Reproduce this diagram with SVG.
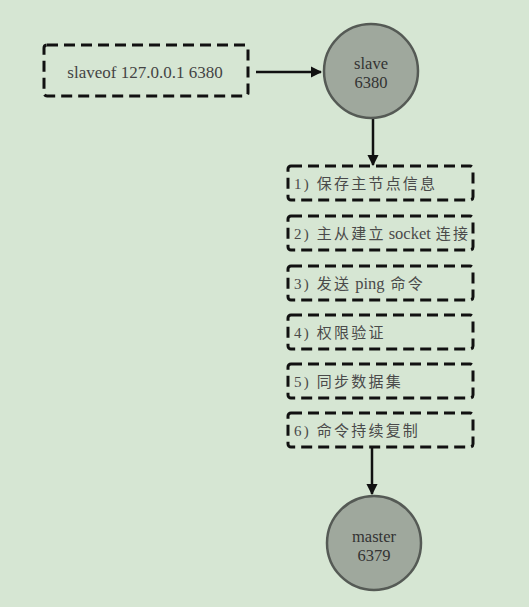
<svg xmlns="http://www.w3.org/2000/svg" width="529" height="607" viewBox="0 0 529 607">
<defs>
<marker id="ah" viewBox="0 0 10 10" refX="9" refY="5" markerWidth="4.5" markerHeight="4.5" orient="auto"><path d="M0,0 L10,5 L0,10 z" fill="#111"/></marker>
<style>
.box{fill:none;stroke:#111;stroke-width:3;stroke-dasharray:11 6;}
.circ{fill:#9fa89d;stroke:#555a55;stroke-width:2.5;}
.t{font-family:"Liberation Serif","Noto Sans CJK SC",serif;font-size:15px;fill:#4a4a4a;letter-spacing:2.2px;}
.n{letter-spacing:0;font-size:16.5px;}
.s{font-family:"Liberation Serif",serif;font-size:17px;fill:#444;text-anchor:middle;}
.c{font-family:"Liberation Serif",serif;font-size:16.5px;fill:#333;text-anchor:middle;}
.ln{stroke:#111;stroke-width:2.5;fill:none;marker-end:url(#ah);}
</style>
</defs>
<rect width="529" height="607" fill="#d6e6d3"/>
<g id="connectors">
<line class="ln" x1="256" y1="72" x2="321" y2="72"/>
<line class="ln" x1="373" y1="119" x2="373" y2="165"/>
<line class="ln" x1="372" y1="448" x2="372" y2="494"/>
</g>
<g id="cmd">
<rect class="box" x="44" y="45" width="204" height="51" rx="3"/>
<text class="s" x="145" y="78">slaveof 127.0.0.1 6380</text>
</g>
<g id="slave">
<circle class="circ" cx="371" cy="71" r="47"/>
<text class="c" x="371" y="69">slave</text>
<text class="c" x="371" y="88">6380</text>
</g>
<g id="step1">
<rect class="box" x="288" y="166" width="185" height="34" rx="3"/>
<text class="t" x="294" y="189">1) 保存主节点信息</text>
</g>
<g id="step2">
<rect class="box" x="288" y="216" width="185" height="34" rx="3"/>
<text class="t" x="294" y="239">2) 主从建立<tspan class="n" dx="3">socket</tspan><tspan dx="5">连接</tspan></text>
</g>
<g id="step3">
<rect class="box" x="288" y="266" width="185" height="34" rx="3"/>
<text class="t" x="294" y="289">3) 发送<tspan class="n" dx="4">ping</tspan><tspan dx="6">命令</tspan></text>
</g>
<g id="step4">
<rect class="box" x="288" y="315" width="185" height="34" rx="3"/>
<text class="t" x="294" y="338">4) 权限验证</text>
</g>
<g id="step5">
<rect class="box" x="288" y="364" width="185" height="34" rx="3"/>
<text class="t" x="294" y="387">5) 同步数据集</text>
</g>
<g id="step6">
<rect class="box" x="288" y="413" width="185" height="34" rx="3"/>
<text class="t" x="294" y="436">6) 命令持续复制</text>
</g>
<g id="master">
<circle class="circ" cx="374" cy="543" r="47"/>
<text class="c" x="374" y="542">master</text>
<text class="c" x="374" y="561">6379</text>
</g>
</svg>
